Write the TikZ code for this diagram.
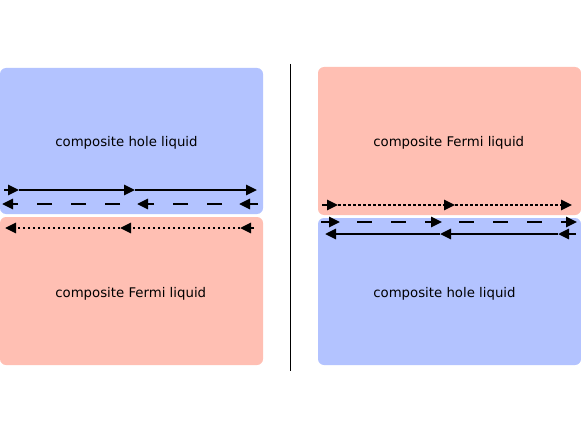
\documentclass[tikz,border=0pt]{standalone}
\usepackage{fontspec}
\setmainfont{DejaVu Sans}
\usepackage{xcolor}
\usepackage{tikz}
\usetikzlibrary{arrows.meta}

\definecolor{holeblue}{RGB}{179,195,255}
\definecolor{fermipink}{RGB}{255,191,179}

\begin{document}
\begin{tikzpicture}[x=1pt, y=-1pt, line width=2.6pt,
  >={Triangle[length=11pt,width=10pt]},
  liquidtext/.style={anchor=base west, inner sep=0pt,
    font=\fontsize{13.3}{16}\selectfont},
  dashline/.style={dash pattern=on 15pt off 19pt, dash phase=17pt},
  dotline/.style={dash pattern=on 2.5pt off 2.5pt}]
  \useasboundingbox (0,0) rectangle (581,436);
  % Blocks
  \fill[holeblue, rounded corners=6pt] (0,68) rectangle (263,214);
  \fill[fermipink, rounded corners=6pt] (0,217) rectangle (263,365);
  \fill[fermipink, rounded corners=6pt] (318,67) rectangle (581,215);
  \fill[holeblue, rounded corners=6pt] (318,218) rectangle (581,365);
  \draw[line width=1pt] (290.5,64) -- (290.5,371);
  % Labels
  \node[liquidtext] (holeL) at (54,146.5) {composite hole liquid};
  \node[liquidtext] (fermiL) at (54,297) {composite Fermi liquid};
  \node[liquidtext] (fermiR) at (372,146.5) {composite Fermi liquid};
  \node[liquidtext] (holeR) at (372,297) {composite hole liquid};
  % Left edge modes
  \draw[->] (4,190) -- (19,190);
  \draw[->] (19,190) -- (135,190);
  \draw[->] (135,190) -- (257,190);
  \draw[->] (258,204) -- (239,204);
  \draw[->, dashline] (239,204) -- (137,204);
  \draw[->, dashline] (137,204) -- (2,204);
  \draw[->] (254,228) -- (240,228);
  \draw[->, dotline] (240,228) -- (120,228);
  \draw[->, dotline] (120,228) -- (5,228);
  % Right edge modes
  \draw[->] (322,205) -- (338,205);
  \draw[->, dotline] (338,205) -- (455,205);
  \draw[->, dotline] (455,205) -- (572,205);
  \draw[->] (321,222) -- (340,222);
  \draw[->, dashline] (340,222) -- (442,222);
  \draw[->, dashline] (442,222) -- (577,222);
  \draw[->] (576,234) -- (558,234);
  \draw[->] (558,234) -- (440,234);
  \draw[->] (440,234) -- (325,234);
\end{tikzpicture}
\end{document}
